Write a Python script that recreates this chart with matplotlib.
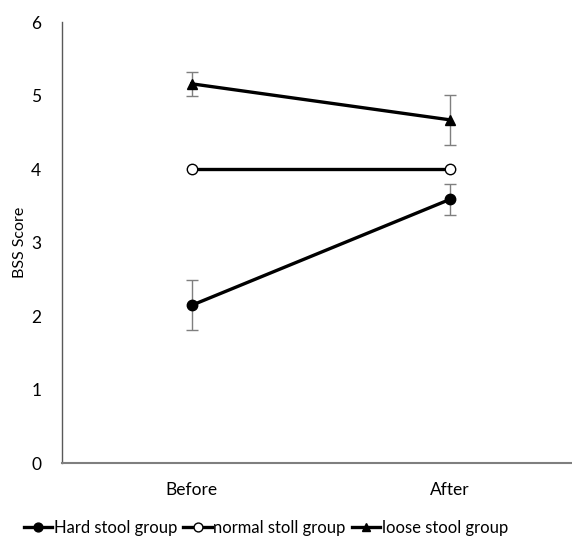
import matplotlib
matplotlib.use("Agg")
import matplotlib.pyplot as plt

plt.rcParams['font.family'] = ['Lato', 'DejaVu Sans']

categories = ["Before", "After"]
hard_mean = [2.15, 3.59]
hard_err = [0.34, 0.21]
normal_mean = [4.0, 4.0]
loose_mean = [5.16, 4.67]
loose_err = [0.16, 0.34]
y_ticks = [0, 1, 2, 3, 4, 5, 6]

fig = plt.figure(figsize=(5.72, 5.38), dpi=100)
ax = fig.add_axes([0.1084, 0.1385, 0.8916, 0.8206])

x = list(range(len(categories)))
err_kw = dict(fmt='none', ecolor='#7f7f7f', elinewidth=1.0, capsize=4, capthick=1.0, zorder=2)
ax.errorbar(x, hard_mean, yerr=hard_err, **err_kw)
ax.errorbar(x, loose_mean, yerr=loose_err, **err_kw)

line_kw = dict(color='black', linewidth=2.4, markersize=7.5, zorder=3)
h1, = ax.plot(x, hard_mean, marker='o', markerfacecolor='black', label='Hard stool group', **line_kw)
h2, = ax.plot(x, normal_mean, marker='o', markerfacecolor='white', markeredgewidth=1.0,
              label='normal stoll group', **line_kw)
h3, = ax.plot(x, loose_mean, marker='^', markerfacecolor='black', label='loose stool group', **line_kw)

ax.set_xlim(-0.502, 1.472)
ax.set_ylim(0, 6)
ax.set_yticks(y_ticks)
ax.set_xticks(x)
ax.set_xticklabels(categories)
ax.tick_params(length=0, labelsize=12.5, colors='#000000')
ax.tick_params(axis='y', pad=15)
ax.tick_params(axis='x', pad=13)
ax.set_ylabel('BSS Score', fontsize=11.5, labelpad=3)

for s in ['top', 'right']:
    ax.spines[s].set_visible(False)
ax.spines['left'].set_color('#595959')
ax.spines['bottom'].set_color('#7f7f7f')
ax.spines['left'].set_linewidth(1.0)
ax.spines['bottom'].set_linewidth(1.5)

fig.legend(handles=[h1, h2, h3], loc='center', bbox_to_anchor=(0.465, 0.018), ncol=3,
           frameon=False, fontsize=12, handlelength=1.7, handletextpad=0.1,
           columnspacing=0.35, markerscale=0.85)

fig.savefig('out.png', dpi=100)
